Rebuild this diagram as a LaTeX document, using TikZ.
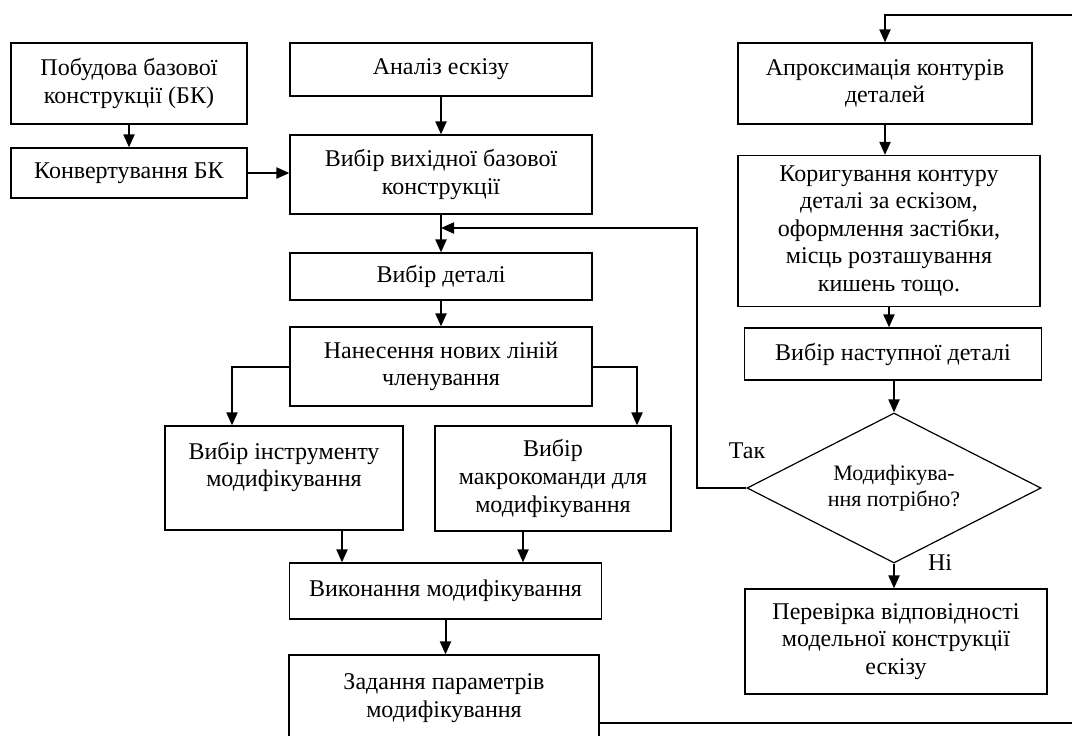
\documentclass[tikz,border=0pt]{standalone}
\usepackage{fontspec}
\setmainfont{Liberation Serif}
\usetikzlibrary{calc,arrows.meta,shapes.geometric}
\tikzset{
  box/.style 2 args={draw, line width=0.6pt, inner sep=0pt, align=center,
    minimum width=#1*0.5pt, minimum height=#2*0.5pt,
    font=\fontsize{12}{13.8}\selectfont},
  dec/.style={draw, diamond, aspect=2, line width=0.6pt, inner sep=0pt, align=center,
    minimum width=147pt, minimum height=75pt,
    font=\fontsize{11}{13}\selectfont},
  arr/.style={line width=1pt, -{Triangle[length=6.5pt,width=5.5pt]}},
  lab/.style={font=\fontsize{12}{13.8}\selectfont},
}
\begin{document}
\begin{tikzpicture}[x=0.5pt,y=-0.5pt]
  \useasboundingbox (0,0) rectangle (1072,735);
  \clip (0,0) rectangle (1072,735);
  % left column
  \node[box={236}{81}] (pob) at (129,83.5) {Побудова базової\\конструкції (БК)};
  \node[box={236}{50}] (konv) at (129,173) {Конвертування БК};
  % main column
  \node[box={302}{53}] (anal) at (441,69.5) {Аналіз ескізу};
  \node[box={302}{79}] (vyb) at (441,174.5) {Вибір вихідної базової\\конструкції};
  \node[box={302}{47}] (det) at (441,276.5) {Вибір деталі};
  \node[box={302}{79}] (nan) at (441,366.5) {Нанесення нових ліній\\членування};
  \node[box={238}{104}] (instr) at (284,478) {Вибір інструменту\\модифікування\\\mbox{}};
  \node[box={236}{105}] (makro) at (553,478.5) {Вибір\\макрокоманди для\\модифікування};
  \node[box={312}{56}] (vyk) at (445.5,591) {Виконання модифікування};
  \node[box={310}{86}] (zad) at (444,698) {Задання параметрів\\модифікування};
  % right column
  \node[box={294}{81}] (apr) at (885,83.5) {Апроксимація контурів\\деталей};
  \node[box={302}{151}] (kor) at (889,231) {Коригування контуру\\деталі за ескізом,\\оформлення застібки,\\місць розташування\\кишень тощо.};
  \node[box={297}{52}] (nast) at (893,354) {Вибір наступної деталі};
  \node[dec] (mod) at (894,488) {Модифікува-\\ння потрібно?};
  \node[box={302}{105}] (per) at (896,641.5) {Перевірка відповідності\\модельної конструкції\\ескізу};
  \node[lab] (tak) at (747,451) {Так};
  \node[lab] (ni) at (940,563) {Ні};
  \coordinate (mrg) at (441,228);
  \coordinate (a1) at ($(instr.south)+(58,0)$);
  \coordinate (a2) at ($(makro.south)+(-30,0)$);
  \coordinate (z1) at ($(zad.east)+(0,25)$);
  % arrows
  \draw[arr] (pob.south) -- (pob.south |- konv.north);
  \draw[arr] (konv.east) -- (konv.east -| vyb.west);
  \draw[arr] (anal) -- (vyb);
  \draw[arr] (vyb) -- (det);
  \draw[arr] (det) -- (nan);
  \draw[arr] (nan.west) -| ($(instr.north)+(-52,0)$);
  \draw[arr] (nan.east) -| ($(makro.north)+(84,0)$);
  \draw[arr] (a1) -- (a1 |- vyk.north);
  \draw[arr] (a2) -- (a2 |- vyk.north);
  \draw[arr] (vyk.south) -- (vyk.south |- zad.north);
  \draw[arr] (z1) -| (1090,15) -| (apr.north);
  \draw[arr] (apr.south) -- (apr.south |- kor.north);
  \draw[arr] (kor.south) -- (kor.south |- nast.north);
  \draw[arr] (nast.south -| mod.north) -- (mod.north);
  \draw[arr] (mod.south) -- (mod.south |- per.north);
  \draw[arr] (mod.west) -| (697,228) -- (mrg);
\end{tikzpicture}
\end{document}
